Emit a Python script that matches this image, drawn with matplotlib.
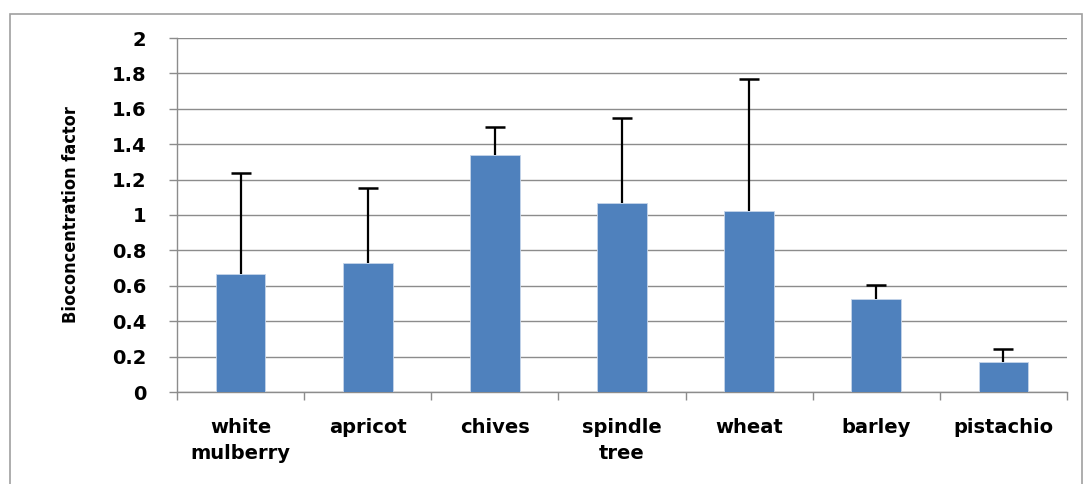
import matplotlib
matplotlib.use("Agg")
import matplotlib.pyplot as plt
import numpy as np
from matplotlib.patches import Rectangle

categories = ["white\nmulberry", "apricot", "chives", "spindle\ntree", "wheat", "barley", "pistachio"]
values = [0.667, 0.729, 1.339, 1.068, 1.023, 0.525, 0.170]
err_upper = [0.570, 0.424, 0.158, 0.480, 0.745, 0.080, 0.073]
yticks = [0, 0.2, 0.4, 0.6, 0.8, 1, 1.2, 1.4, 1.6, 1.8, 2]
ytick_labels = ["0", "0.2", "0.4", "0.6", "0.8", "1", "1.2", "1.4", "1.6", "1.8", "2"]
ylabel = "Bioconcentration factor"

fig = plt.figure(figsize=(10.88, 4.84), dpi=100)
fig.patches.append(Rectangle((10/1088, -0.01), 1072/1088, 1 - 14/484 + 0.01,
                             transform=fig.transFigure, fill=False,
                             edgecolor="#A0A0A0", linewidth=1.2))
ax = fig.add_axes([177/1088, 1 - 392/484, (1067-177)/1088, (392-38)/484])

x = np.arange(len(categories))
vals = np.array(values)
tops = vals + np.array(err_upper)
ax.bar(x, vals, width=0.39, color="#4F81BD", zorder=3,
       edgecolor="#C6D5EA", linewidth=0.6)
ax.vlines(x, vals, tops, colors="black", linewidth=1.6, zorder=4)
ax.plot(x, tops, linestyle="none", marker="_", markersize=15, markeredgewidth=1.8,
        color="black", zorder=4)

ax.set_xlim(-0.5, len(categories) - 0.5)
ax.set_ylim(0, 2)
ax.set_yticks(yticks)
ax.set_yticklabels(ytick_labels, fontsize=14, fontweight="bold", family="DejaVu Sans")
ax.yaxis.grid(True, color="#8C8C8C", linewidth=1.0, zorder=0)
ax.set_axisbelow(True)

ax.set_xticks(x)
ax.set_xticklabels(categories, fontsize=14, fontweight="bold", family="DejaVu Sans",
                   linespacing=1.45)
ax.tick_params(axis="x", length=0, pad=19)
ax.set_xticks(np.arange(len(categories) + 1) - 0.5, minor=True)
ax.tick_params(axis="x", which="minor", length=6, color="#8C8C8C", width=1.0)
ax.tick_params(axis="y", length=6, color="#8C8C8C", width=1.0, pad=16)

for s in ["top", "right"]:
    ax.spines[s].set_visible(False)
for s in ["left", "bottom"]:
    ax.spines[s].set_color("#8C8C8C")
    ax.spines[s].set_linewidth(1.0)

ax.set_ylabel(ylabel, fontsize=13, fontweight="bold", fontstretch="condensed",
              family=["DejaVu Sans"], labelpad=23)

fig.savefig("out.png", dpi=100)
